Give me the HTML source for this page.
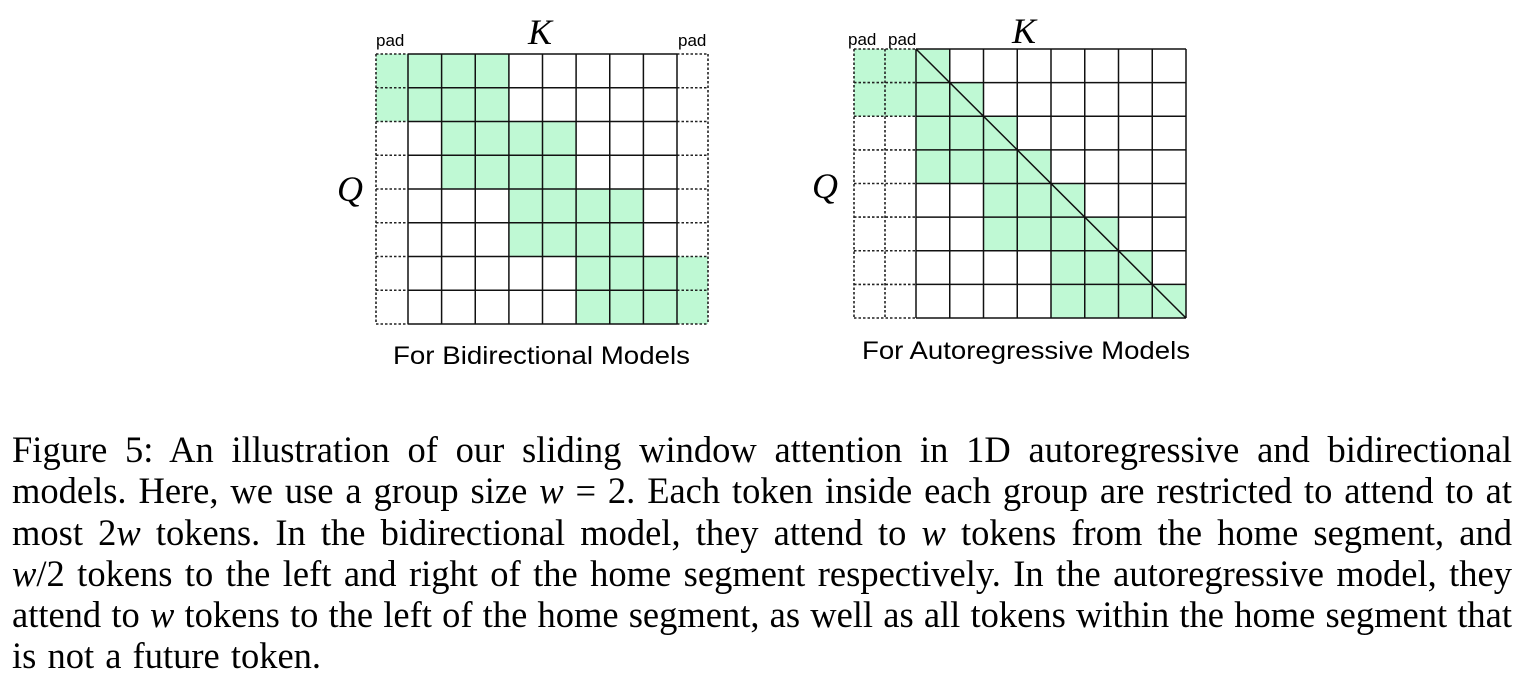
<!DOCTYPE html>
<html><head><meta charset="utf-8"><style>
body{margin:0;background:#fff;width:1526px;height:687px;overflow:hidden;position:relative}
.cap{position:absolute;left:12px;width:1500px;font-family:"Liberation Serif",serif;font-size:36.5px;line-height:41.3px;top:429px;text-align:justify;color:#000}
.cap div{text-align:justify;text-align-last:justify;white-space:nowrap;height:41.3px}
.cap div.last{text-align-last:left;word-spacing:2px}
i{font-style:italic}
</style></head><body>
<svg width="1526" height="420" style="position:absolute;left:0;top:0" xmlns="http://www.w3.org/2000/svg">
<g fill="#bff9d4" stroke="none">
<rect x="376" y="54" width="133" height="67.5"/>
<rect x="441.6" y="121.5" width="134.9" height="67.5"/>
<rect x="509" y="189" width="134.9" height="67.5"/>
<rect x="576.5" y="256.5" width="131.5" height="67.5"/>
<polygon points="854,49 949.75,49 949.75,82.6 983.5,82.6 983.5,116.25 1017.25,116.25 1017.25,149.9 1051,149.9 1051,183.5 1084.75,183.5 1084.75,217.1 1118.5,217.1 1118.5,250.75 1152.25,250.75 1152.25,284.4 1186,284.4 1186,318 1051,318 1051,250.75 983.5,250.75 983.5,183.5 916,183.5 916,116.25 854,116.25"/>
</g>
<g stroke="#222" stroke-width="1.6" stroke-dasharray="2.5,2" fill="none">
<path d="M376,54V324M708,54V324M376,54H408M376,87.75H408M376,121.5H408M376,155.25H408M376,189H408M376,222.75H408M376,256.5H408M376,290.25H408M376,324H408M677,54H708M677,87.75H708M677,121.5H708M677,155.25H708M677,189H708M677,222.75H708M677,256.5H708M677,290.25H708M677,324H708"/>
<path d="M854,49V318M885,49V318M854,49H916M854,82.6H916M854,116.25H916M854,149.9H916M854,183.5H916M854,217.1H916M854,250.75H916M854,284.4H916M854,318H916"/>
</g>
<g stroke="#111" stroke-width="1.5" fill="none">
<path d="M408,54V324M441.6,54V324M475.25,54V324M508.9,54V324M542.5,54V324M576.1,54V324M609.75,54V324M643.4,54V324M677,54V324M408,54H677M408,87.75H677M408,121.5H677M408,155.25H677M408,189H677M408,222.75H677M408,256.5H677M408,290.25H677M408,324H677"/>
<path d="M916,49V318M949.75,49V318M983.5,49V318M1017.25,49V318M1051,49V318M1084.75,49V318M1118.5,49V318M1152.25,49V318M1186,49V318M916,49H1186M916,82.6H1186M916,116.25H1186M916,149.9H1186M916,183.5H1186M916,217.1H1186M916,250.75H1186M916,284.4H1186M916,318H1186M916,49L1186,318"/>
</g>
<g font-family="Liberation Sans, sans-serif" font-size="17" fill="#000">
<text x="376" y="46">pad</text><text x="678" y="46">pad</text>
<text x="848" y="45">pad</text><text x="888" y="45">pad</text>
</g>
<g font-family="Liberation Serif, serif" font-style="italic" font-size="36" fill="#000">
<text x="528" y="44">K</text><text x="1012" y="43">K</text>
<text x="337" y="201">Q</text><text x="812" y="198">Q</text>
</g>
<g font-family="Liberation Sans, sans-serif" font-size="25" fill="#000">
<text x="393" y="364" textLength="297" lengthAdjust="spacingAndGlyphs">For Bidirectional Models</text>
<text x="862" y="359" textLength="328" lengthAdjust="spacingAndGlyphs">For Autoregressive Models</text>
</g>
</svg>
<div class="cap">
<div>Figure 5: An illustration of our sliding window attention in 1D autoregressive and bidirectional</div>
<div>models. Here, we use a group size <i>w</i> = 2. Each token inside each group are restricted to attend to at</div>
<div>most 2<i>w</i> tokens. In the bidirectional model, they attend to <i>w</i> tokens from the home segment, and</div>
<div><i>w</i>/2 tokens to the left and right of the home segment respectively. In the autoregressive model, they</div>
<div>attend to <i>w</i> tokens to the left of the home segment, as well as all tokens within the home segment that</div>
<div class="last">is not a future token.</div>
</div>
</body></html>
